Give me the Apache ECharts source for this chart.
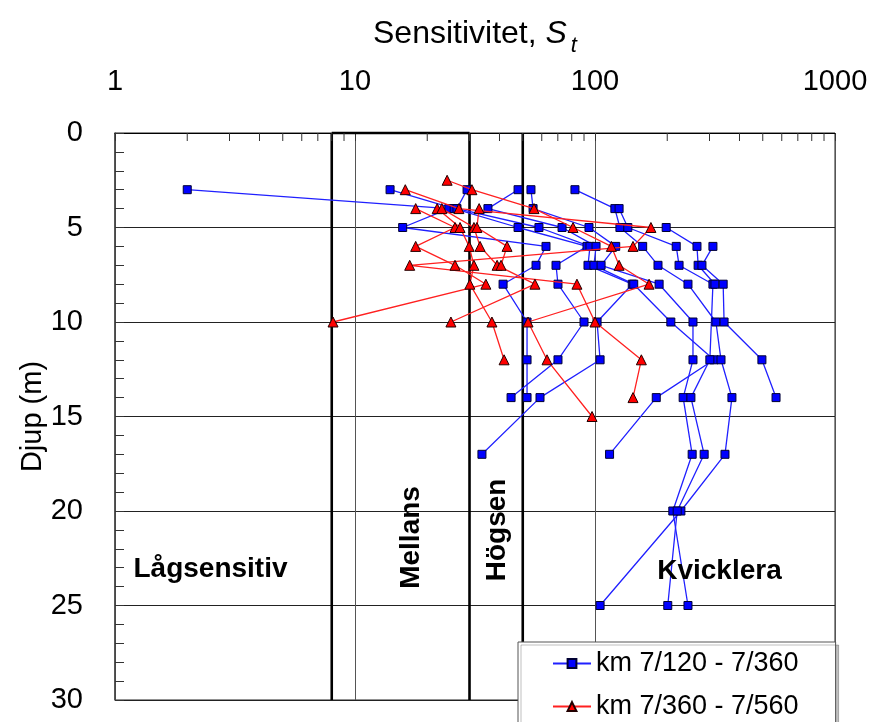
<!DOCTYPE html>
<html><head><meta charset="utf-8">
<script src="https://cdn.jsdelivr.net/npm/echarts@6/dist/echarts.min.js"></script>
<style>html,body{margin:0;padding:0;background:#fff}#c{width:876px;height:722px}</style>
</head><body><div id="c"></div>
<script>
// ---- data ----
const seriesNames = ['km 7/120 - 7/360', 'km 7/360 - 7/560'];
const xTickLabels = ['1', '10', '100', '1000'];
const yTickLabels = ['0', '5', '10', '15', '20', '25', '30'];

// blue boreholes (km 7/120 - 7/360): depth (m) and sensitivity St
const blueDepth1 = [3, 4, 5, 6, 7, 8, 10, 12, 14];
const blueSt1    = [2.0, 24.6, 15.8, 62.5, 56.8, 41.4, 52.1, 52.1, 52.1];
const blueDepth2 = [3, 4, 5, 6, 7, 8, 10, 12, 14];
const blueSt2    = [14, 25.9, 47.8, 92.6, 68.8, 70.1, 90, 70.1, 44.7];
const blueDepth3 = [3, 4, 5, 6, 7, 8, 10, 12, 14, 17];
const blueSt3    = [29.3, 26.6, 58.4, 95.3, 93.5, 143, 102, 105, 59, 33.8];
const blueDepth4 = [3, 4, 5, 6, 7, 8, 10, 12, 14, 17];
const blueSt4    = [47.8, 35.8, 72.9, 101, 99, 145, 207, 313, 180, 115];
const blueDepth5 = [3, 4, 5, 6, 7, 8, 10, 12, 14, 17, 20, 25];
const blueSt5    = [54.1, 55.2, 94.4, 122, 106, 185, 256, 256, 233, 254, 211, 244];
const blueDepth6 = [3, 4, 5, 6, 7, 8, 10, 12, 14, 17, 20, 25];
const blueSt6    = [82.5, 121, 127, 158, 183, 244, 319, 335, 372, 348, 228, 105];
const blueDepth7 = [4, 5, 6, 7, 8, 12, 14, 17, 20, 25];
const blueSt7    = [126, 137, 218, 224, 310, 301, 251, 285, 220, 201];
const blueDepth8 = [5, 6, 7, 8];
const blueSt8    = [198, 266, 269, 316];
const blueDepth9 = [6, 7, 8, 10, 12, 14];
const blueSt9    = [310, 279, 342, 345, 496, 568];

// red boreholes (km 7/360 - 7/560)
const redDepth1 = [2.5, 3, 4, 5, 6, 7, 8, 10, 12, 15];
const redSt1    = [24.2, 30.7, 55.7, 81, 117, 126, 168, 52.6, 63.1, 97.2];
const redDepth2 = [3, 4, 5, 6, 7, 8, 10, 12, 14];
const redSt2    = [16.2, 27.1, 171, 144, 16.9, 84.1, 100, 156, 144];
const redDepth3 = [4, 5, 6, 7, 8, 10];
const redSt3    = [17.9, 26.1, 17.9, 26.1, 35.1, 8.1];
const redDepth4 = [4, 5, 6, 7, 8, 10, 12];
const redSt4    = [22, 27.4, 29.9, 31.3, 30.1, 37.2, 41.8];
const redDepth5 = [4, 5, 6, 7, 8, 10];
const redSt5    = [23, 31.3, 33.2, 39.1, 56.2, 25.1];
const redDepth6 = [4, 5, 6, 7];
const redSt6    = [32.9, 32.2, 43, 40.6];

// sensitivity class boundaries and labels
const zoneBounds = [8, 30, 50];
const zoneLabels = ['Lågsensitiv', 'Mellans', 'Högsen', 'Kvicklera'];
const zoneLabelSt = [2.5, 17.1, 39, 330];
const zoneLabelDepth = [23.1, 21.4, 21.0, 23.2];
const zoneLabelRotate = [0, 90, 90, 0];
const minorTickValues = [2,3,4,5,6,7,8,9,20,30,40,50,60,70,80,90,200,300,400,500,600,700,800,900];

// ---- chart ----
const FONT = '"Liberation Sans", Arial, sans-serif';
const blueSets = [[blueDepth1, blueSt1],[blueDepth2, blueSt2],[blueDepth3, blueSt3],[blueDepth4, blueSt4],[blueDepth5, blueSt5],[blueDepth6, blueSt6],[blueDepth7, blueSt7],[blueDepth8, blueSt8],[blueDepth9, blueSt9]];
const redSets = [[redDepth1, redSt1],[redDepth2, redSt2],[redDepth3, redSt3],[redDepth4, redSt4],[redDepth5, redSt5],[redDepth6, redSt6]];

function lineSeries(name, depth, st, blue) {
  return {
    name: name, type: 'line', animation: false,
    data: depth.map((d, i) => [st[i], d]),
    symbol: blue ? 'rect' : 'triangle',
    symbolSize: blue ? 8 : 10,
    itemStyle: blue ? {color: '#0000ff', borderColor: '#000033', borderWidth: 1}
                    : {color: '#ff0000', borderColor: '#220000', borderWidth: 1},
    lineStyle: {color: blue ? '#2020ff' : '#ff2020', width: 1.3},
    emphasis: {disabled: true},
    z: blue ? 3 : 4
  };
}

const series = [];
blueSets.forEach(s => series.push(lineSeries(seriesNames[0], s[0], s[1], true)));
redSets.forEach(s => series.push(lineSeries(seriesNames[1], s[0], s[1], false)));

// minor ticks along the top log axis
series.push({
  type: 'custom', silent: true, animation: false, clip: false, z: 5,
  data: minorTickValues.map(v => [v, 0]),
  encode: {x: 0, y: 1},
  renderItem: function (params, api) {
    const p = api.coord([api.value(0), 0]);
    return {type: 'line', shape: {x1: p[0], y1: p[1], x2: p[0], y2: p[1] + 8},
            style: {stroke: '#333', lineWidth: 1}};
  }
});
// thick class boundaries
series.push({
  type: 'custom', silent: true, animation: false, clip: false, z: 2,
  data: zoneBounds.map(v => [v, 0]),
  encode: {x: 0, y: 1},
  renderItem: function (params, api) {
    const a = api.coord([api.value(0), 0]);
    const b = api.coord([api.value(0), 30]);
    return {type: 'line', shape: {x1: a[0], y1: a[1], x2: b[0], y2: b[1]},
            style: {stroke: '#000', lineWidth: 2.6}};
  }
});
// box top between 8 and 30
series.push({
  type: 'custom', silent: true, animation: false, clip: false, z: 2,
  data: [[zoneBounds[0], zoneBounds[1]]],
  encode: {x: 0},
  renderItem: function (params, api) {
    const a = api.coord([api.value(0), 0]);
    const b = api.coord([api.value(1), 0]);
    return {type: 'line', shape: {x1: a[0], y1: a[1], x2: b[0], y2: b[1]},
            style: {stroke: '#000', lineWidth: 2.6}};
  }
});
// class labels
series.push({
  type: 'scatter', silent: true, animation: false, symbolSize: 0, z: 6,
  itemStyle: {opacity: 1},
  data: zoneLabels.map((n, i) => ({name: n, value: [zoneLabelSt[i], zoneLabelDepth[i]],
                                   label: {rotate: zoneLabelRotate[i]}})),
  label: {show: true, position: 'inside', formatter: '{b}', fontFamily: FONT, opacity: 1,
          fontSize: 28, fontWeight: 'bold', color: '#000'}
});

const option = {
  backgroundColor: '#fff',
  animation: false,
  textStyle: {fontFamily: FONT},
  grid: {left: 115, right: 41, top: 133, bottom: 22, show: true, borderColor: '#222', borderWidth: 1,
         containLabel: false, outerBoundsMode: 'none'},
  legend: {
    data: seriesNames, orient: 'vertical', left: 518, top: 642, height: 120,
    backgroundColor: '#fff', borderColor: '#555', borderWidth: 1,
    shadowColor: 'rgba(0,0,0,0.25)', shadowOffsetX: 3, shadowOffsetY: 3, shadowBlur: 0,
    padding: [8, 37, 14, 34], itemWidth: 38, itemHeight: 11, itemGap: 16,
    textStyle: {fontSize: 27, color: '#000', fontFamily: FONT},
    selectedMode: false
  },
  xAxis: {
    type: 'log', logBase: 10, min: 1, max: 1000, position: 'top',
    axisLine: {show: true, lineStyle: {color: '#000', width: 1}},
    axisTick: {show: true, inside: true, length: 8, lineStyle: {color: '#333'}},
    axisLabel: {fontSize: 29, color: '#000', margin: 37, fontFamily: FONT,
                formatter: function (v) { const i = Math.round(Math.log10(v)); return xTickLabels[i] || ''; }},
    splitLine: {show: true, lineStyle: {color: '#555', width: 1}},
    name: '{n|Sensitivitet, }{s|S}{t|t}', nameLocation: 'middle', nameGap: 76, nameMoveOverlap: false,
    nameTextStyle: {rich: {
      n: {fontSize: 32, color: '#000', fontFamily: FONT, verticalAlign: 'top'},
      s: {fontSize: 32, color: '#000', fontFamily: FONT, fontStyle: 'italic', verticalAlign: 'top'},
      t: {fontSize: 22, color: '#000', fontFamily: FONT, fontStyle: 'italic', verticalAlign: 'top', padding: [17, 0, 0, 4]}
    }}
  },
  yAxis: {
    type: 'value', inverse: true, min: 0, max: 30, interval: 5,
    axisLine: {show: true, lineStyle: {color: '#444', width: 1.5}},
    axisTick: {show: true, inside: true, length: 9, lineStyle: {color: '#333'}},
    minorTick: {show: true, splitNumber: 5, length: 9, lineStyle: {color: '#333'}},
    axisLabel: {fontSize: 29, color: '#000', margin: 32, fontFamily: FONT,
                formatter: function (v) { return yTickLabels[Math.round(v / 5)]; }},
    splitLine: {show: true, lineStyle: {color: '#222', width: 1}},
    name: 'Djup (m)', nameLocation: 'middle', nameGap: 68, nameMoveOverlap: false,
    nameTextStyle: {fontSize: 29, color: '#000', fontFamily: FONT}
  },
  series: series
};

const chart = echarts.init(document.getElementById('c'), null, {renderer: 'canvas'});
chart.setOption(option);
</script>
</body></html>
